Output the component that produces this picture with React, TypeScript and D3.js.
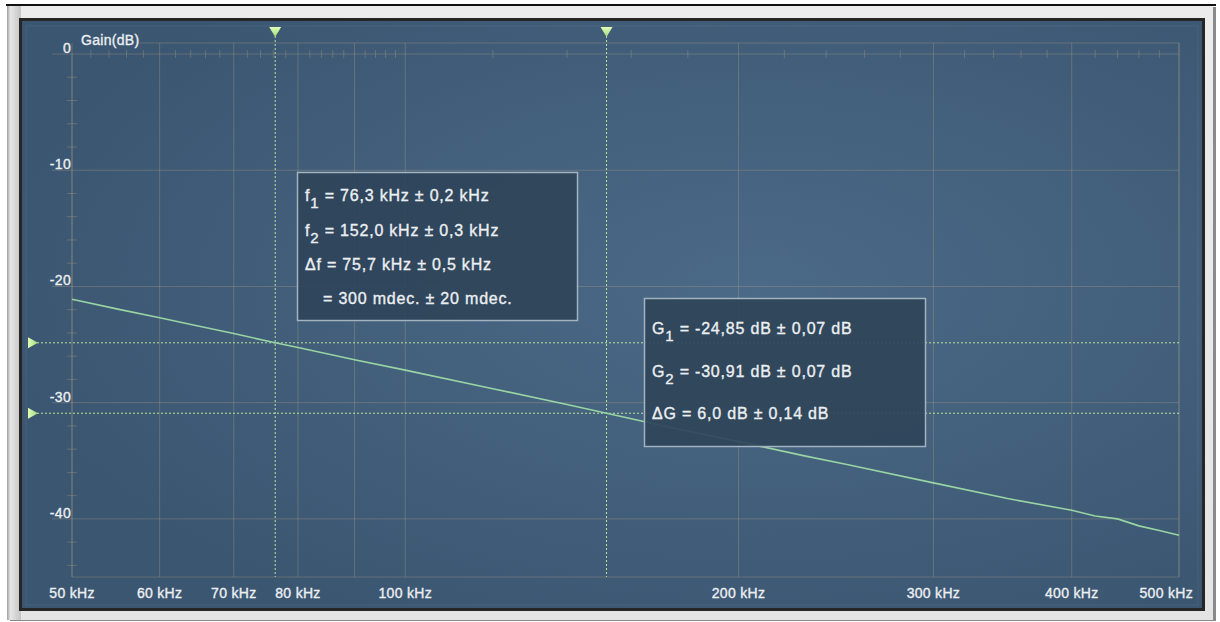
import React from "react";
import * as d3 from "d3";

// ---- data ----
const FREQ_KHZ = [50, 55, 60, 65, 70, 76.3, 80, 90, 100, 120, 140, 152, 175, 200, 230, 250, 300, 350, 400, 420, 440, 460, 480, 500];
const GAIN_DB = [-21.1, -21.95, -22.7, -23.4, -24.05, -24.85, -25.25, -26.3, -27.2, -28.8, -30.15, -30.91, -32.2, -33.35, -34.6, -35.3, -36.9, -38.25, -39.25, -39.75, -40.0, -40.6, -41.0, -41.4];

const X_GRID = [50, 60, 70, 80, 90, 100, 200, 300, 400, 500];
const X_LABELS = [50, 60, 70, 80, 100, 200, 300, 400, 500];
const Y_LABELS = [0, -10, -20, -30, -40];

const CURSOR_F = [76.3, 152.0];
const CURSOR_G = [-24.85, -30.91];

const BOX_F_LINES = [
  { main: "f", sub: "1", rest: " = 76,3 kHz ± 0,2 kHz" },
  { main: "f", sub: "2", rest: " = 152,0 kHz ± 0,3 kHz" },
  { main: "Δf", sub: "", rest: " = 75,7 kHz ± 0,5 kHz" },
  { main: "", sub: "", rest: "= 300 mdec. ± 20 mdec." },
];
const BOX_G_LINES = [
  { main: "G", sub: "1", rest: " = -24,85 dB ± 0,07 dB" },
  { main: "G", sub: "2", rest: " = -30,91 dB ± 0,07 dB" },
  { main: "ΔG", sub: "", rest: " = 6,0 dB ± 0,14 dB" },
];

// ---- layout ----
const W = 1220;
const H = 622;
const L = 72;
const R = 1179;
const TOP = 43;
const BOTTOM = 577;

const FONT = "'Liberation Sans', Arial, Helvetica, sans-serif";
const GRID = "rgba(165,155,135,0.38)";
const TXT = "#eceff2";
const CUR = "#b9e59a";

export default function App() {
  const x = d3.scaleLog().domain([50, 500]).range([L, R]);
  const y = d3.scaleLinear().domain([0, -45]).range([54, BOTTOM]);

  const xMinor: number[] = [
    ...d3.range(52, 100, 2).filter((v) => v % 10 !== 0),
    ...d3.range(120, 500, 20).filter((v) => v % 100 !== 0),
  ];
  const yMinor = d3.range(0, -45, -2).filter((v) => v % 10 !== 0);

  const line = d3
    .line<number>()
    .x((_, i) => x(FREQ_KHZ[i]))
    .y((d) => y(d))
    .curve(d3.curveLinear);

  const textStyle = { stroke: TXT, strokeWidth: 0.35 };

  const renderLines = (
    lines: { main: string; sub: string; rest: string }[],
    x0: number,
    baselines: number[],
    indent: number
  ) =>
    lines.map((l, i) => (
      <text
        key={i}
        x={l.main ? x0 : x0 + indent}
        y={baselines[i]}
        fill={TXT}
        fontSize={16}
        fontFamily={FONT}
        letterSpacing={0.8}
        style={textStyle}
      >
        {l.main}
        {l.sub && (
          <tspan fontSize={15} dy={7}>
            {l.sub}
          </tspan>
        )}
        <tspan dy={l.sub ? -7 : 0}>{l.rest}</tspan>
      </text>
    ));

  return (
    <svg width={W} height={H} style={{ display: "block", position: "absolute", left: 0, top: 0 }}>
      <defs>
        <radialGradient id="panelBg" cx="0.62" cy="0.45" r="0.65">
          <stop offset="0" stopColor="#4b6a87" />
          <stop offset="1" stopColor="#3b5671" />
        </radialGradient>
        <linearGradient id="bezel" x1="0" y1="0" x2="0" y2="1">
          <stop offset="0" stopColor="#ececec" />
          <stop offset="1" stopColor="#e4e4e4" />
        </linearGradient>
        <linearGradient id="bezelL" x1="0" y1="0" x2="1" y2="0">
          <stop offset="0" stopColor="#a0a0a0" />
          <stop offset="0.25" stopColor="#e6e6e6" />
          <stop offset="1" stopColor="#c4c4c4" />
        </linearGradient>
        <linearGradient id="triV" x1="0" y1="0" x2="0" y2="1">
          <stop offset="0" stopColor="#e2ffb8" />
          <stop offset="1" stopColor="#9fd67a" />
        </linearGradient>
        <linearGradient id="triH" x1="0" y1="0" x2="1" y2="0">
          <stop offset="0" stopColor="#e2ffb8" />
          <stop offset="1" stopColor="#9fd67a" />
        </linearGradient>
      </defs>

      <rect x={0} y={0} width={W} height={H} fill="#ffffff" />
      {/* bezel */}
      <rect x={10} y={7} width={1206} height={614} fill="#8a8a8a" />
      <rect x={7} y={5} width={1206} height={615} fill="url(#bezel)" />
      <rect x={7} y={5} width={14} height={615} fill="url(#bezelL)" />
      <line x1={6} x2={1216} y1={5} y2={5} stroke="#111" strokeWidth={2} />
      <rect x={19} y={18} width={1186} height={593} fill="#262626" />
      {/* panel */}
      <rect x={22} y={21} width={1180} height={587} fill="url(#panelBg)" />
      <rect x={26} y={26} width={1172} height={579} fill="none" stroke="rgba(255,255,255,0.07)" strokeWidth={1} />

      {/* plot frame */}
      <g stroke={GRID} strokeWidth={1} fill="none">
        <line x1={140} x2={R} y1={TOP} y2={TOP} />
        <line x1={R} x2={R} y1={TOP} y2={BOTTOM} />
        <line x1={L} x2={R} y1={BOTTOM} y2={BOTTOM} />
        <line x1={L} x2={L} y1={y(0)} y2={BOTTOM} />
        {X_GRID.map((f) => (
          <line key={"xg" + f} x1={x(f)} x2={x(f)} y1={TOP} y2={BOTTOM} />
        ))}
        {Y_LABELS.map((v) => (
          <line key={"yg" + v} x1={52} x2={R} y1={y(v)} y2={y(v)} />
        ))}
        {xMinor.map((f) => (
          <line key={"xm" + f} x1={x(f)} x2={x(f)} y1={y(0) - 4} y2={y(0) + 4} />
        ))}
        {yMinor.map((v) => (
          <line key={"ym" + v} x1={L - 5} x2={L + 5} y1={y(v)} y2={y(v)} />
        ))}
      </g>

      {/* axis labels */}
      <text x={81} y={45} fill={TXT} fontSize={14} fontFamily={FONT} letterSpacing={0.3} style={textStyle}>
        Gain(dB)
      </text>
      {Y_LABELS.map((v) => (
        <text
          key={"yl" + v}
          x={71}
          y={y(v) - 1}
          fill={TXT}
          fontSize={14}
          fontFamily={FONT}
          textAnchor="end"
          letterSpacing={0.3}
          style={textStyle}
        >
          {v === 0 ? "0" : String(v)}
        </text>
      ))}
      {X_LABELS.map((f) => {
        const cx = x(f);
        const atEnd = cx > R - 20;
        return (
          <text
            key={"xl" + f}
            x={atEnd ? 1193 : cx}
            y={598}
            fill={TXT}
            fontSize={14}
            fontFamily={FONT}
            textAnchor={atEnd ? "end" : "middle"}
            letterSpacing={0.3}
            style={textStyle}
          >
            {`${f} kHz`}
          </text>
        );
      })}

      {/* cursors */}
      {CURSOR_F.map((f) => (
        <g key={"cf" + f}>
          <line x1={x(f)} x2={x(f)} y1={36} y2={BOTTOM} stroke={CUR} strokeWidth={1} strokeDasharray="2,2" />
          <path d={`M${x(f) - 6},27 L${x(f) + 6},27 L${x(f)},37 Z`} fill="url(#triV)" />
        </g>
      ))}
      {CURSOR_G.map((g) => (
        <g key={"cg" + g}>
          <line x1={37} x2={R} y1={y(g)} y2={y(g)} stroke={CUR} strokeWidth={1} strokeDasharray="2,2" />
          <path d={`M28,${y(g) - 5.5} L28,${y(g) + 5.5} L38,${y(g)} Z`} fill="url(#triH)" />
        </g>
      ))}

      {/* response curve */}
      <path d={line(GAIN_DB) || ""} fill="none" stroke="#98d4a4" strokeWidth={1.6} />

      {/* readout boxes */}
      <rect x={297.5} y={172.5} width={280} height={148} fill="#2f4459" fillOpacity={0.92} stroke="#a3b2c0" strokeWidth={1.5} />
      {renderLines(BOX_F_LINES, 305, [201, 236, 270, 304], 18)}

      <rect x={644.5} y={298.5} width={281} height={148} fill="#2f4459" fillOpacity={0.92} stroke="#a3b2c0" strokeWidth={1.5} />
      {renderLines(BOX_G_LINES, 652, [334, 377, 419], 0)}
    </svg>
  );
}
